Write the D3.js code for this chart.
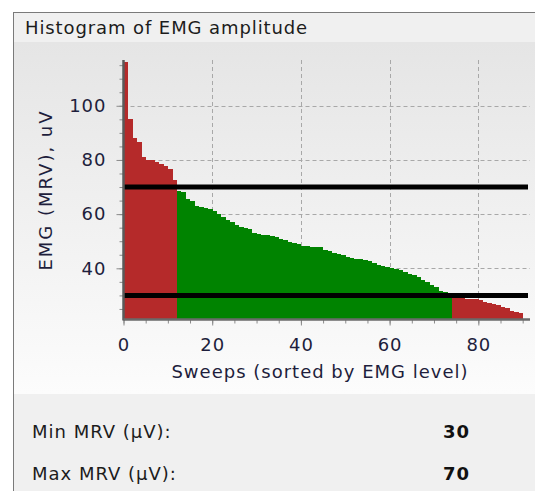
<!DOCTYPE html>
<html><head><meta charset="utf-8">
<script src="https://cdn.jsdelivr.net/npm/d3@7/dist/d3.min.js"></script>
<style>
html,body{margin:0;padding:0;background:#fff;}
svg{display:block;}
</style></head>
<body>
<svg id="c" width="535" height="491"></svg>
<script>
// ---- data ----
const title = "Histogram of EMG amplitude";
const xLabel = "Sweeps (sorted by EMG level)";
const yLabel = "EMG (MRV), uV";
const minMRV = 30;
const maxMRV = 70;
const emgValues = [
 116, 95, 88, 86.5, 81, 80, 79.8, 79.3, 78.6, 77.8, 76.8, 72.5,
 68.7, 68.3, 65.5, 65, 63, 62.6, 62.3, 61.8, 61, 60, 59, 58, 57, 56,
 55.3, 55, 54.5, 53.2, 52.8, 52.3, 52.2, 52, 51.5, 51, 50.5, 49.8, 49.2, 48.8,
 48.3, 48.1, 48, 47.9, 47.8, 46.8, 46.3, 45.8, 45.3, 44.8, 44.2, 43.8, 43.6, 43.3,
 43, 42.6, 42, 41.4, 41, 40.6, 40.1, 39.8, 39.2, 38.6, 38, 37.4, 36.7, 35.8, 35,
 34, 33, 31.8, 31.1, 30.8,
 29.2, 29, 28.9, 28.8, 28.6, 28.5, 28.2, 27.6, 27.2, 26.8, 26.3, 25.8, 25.3, 24.3, 23.8, 23.4
];
const xTicks = [0, 20, 40, 60, 80];
const yTicks = [40, 60, 80, 100];
const infoLabels = ["Min MRV (\u00b5V):", "Max MRV (\u00b5V):"];
const infoValues = [minMRV, maxMRV];

// ---- layout ----
const svg = d3.select("#c");
const W = 535, H = 491;
const plot = {left: 123.5, right: 530, top: 60, bottom: 319.5};
const FONT = "DejaVu Sans";
const styleText = (sel, opts={}) => sel.style("font-family",FONT).style("font-size",(opts.size||18)+"px")
  .style("letter-spacing",(opts.ls!=null?opts.ls:1)+"px").style("font-weight",opts.bold?"bold":"normal")
  .attr("fill",opts.fill||"#1e1e3c");

const defs = svg.append("defs");
const grad = defs.append("linearGradient").attr("id","bg").attr("x1",0).attr("y1",0).attr("x2",0).attr("y2",1);
grad.append("stop").attr("offset","0%").attr("stop-color","#e5e5e5");
grad.append("stop").attr("offset","100%").attr("stop-color","#fcfcfc");

svg.append("rect").attr("x",13).attr("y",12).attr("width",W-13).attr("height",H-12).attr("fill","#f0f0f0");
svg.append("rect").attr("x",14).attr("y",42).attr("width",W-14).attr("height",352).attr("fill","url(#bg)");
svg.append("line").attr("x1",13.5).attr("x2",13.5).attr("y1",12).attr("y2",H).attr("stroke","#7a7a7a");
svg.append("line").attr("x1",13).attr("x2",W).attr("y1",12.5).attr("y2",12.5).attr("stroke","#7a7a7a");

styleText(svg.append("text").attr("x",25).attr("y",34).text(title), {fill:"#1c1c1c", ls:0.9});

// scales
const x = d3.scaleLinear().domain([0, 91.65]).range([plot.left, plot.right]);
const y = d3.scaleLinear().domain([21.1, 116.9]).range([plot.bottom, plot.top]);

// grid
const grid = svg.append("g").attr("stroke","#a8a8a8").attr("stroke-dasharray","4,3").attr("stroke-width",1);
xTicks.filter(d=>d>0).forEach(d=>{
  grid.append("line").attr("x1",Math.round(x(d))+0.5).attr("x2",Math.round(x(d))+0.5).attr("y1",plot.top).attr("y2",plot.bottom);
});
yTicks.forEach(d=>{
  grid.append("line").attr("x1",plot.left).attr("x2",plot.right).attr("y1",Math.round(y(d))+0.5).attr("y2",Math.round(y(d))+0.5);
});

// bars
const colorOf = v => (v > maxMRV || v < minMRV) ? "#b52a2a" : "#008300";
svg.append("g").selectAll("rect").data(emgValues).join("rect")
  .attr("x",(d,i)=>x(i)).attr("width",(d,i)=>x(i+1)-x(i)+0.3)
  .attr("y",d=>y(d)).attr("height",d=>plot.bottom - y(d))
  .attr("fill",colorOf).attr("shape-rendering","crispEdges");

// threshold lines
svg.append("g").selectAll("line").data([minMRV, maxMRV]).join("line")
  .attr("x1",plot.left).attr("x2",528).attr("y1",d=>y(d)).attr("y2",d=>y(d))
  .attr("stroke","#000").attr("stroke-width",5);

// axes
const yAxisMinor = d3.axisLeft(y).tickValues(d3.range(25,116,5)).tickSize(4).tickFormat("");
const gyMinor = svg.append("g").attr("transform",`translate(${plot.left},0)`).call(yAxisMinor);
const yAxis = d3.axisLeft(y).tickValues(yTicks).tickSize(7).tickPadding(10);
const gy = svg.append("g").attr("transform",`translate(${plot.left},0)`).call(yAxis);
const xAxisMinor = d3.axisBottom(x).tickValues(d3.range(0,91,5)).tickSize(4).tickFormat("");
const gxMinor = svg.append("g").attr("transform",`translate(0,${plot.bottom})`).call(xAxisMinor);
const xAxis = d3.axisBottom(x).tickValues(xTicks).tickSize(6).tickPadding(13);
const gx = svg.append("g").attr("transform",`translate(0,${plot.bottom})`).call(xAxis);
[gy,gx,gyMinor,gxMinor].forEach(g=>{
  g.attr("font-family",null).attr("font-size",null);
  g.selectAll(".domain").remove();
  g.selectAll(".tick line").attr("stroke","#8a8a8a");
  styleText(g.selectAll("text"));
});
svg.append("line").attr("x1",plot.left).attr("x2",plot.left).attr("y1",plot.top).attr("y2",plot.bottom+1)
  .attr("stroke","#5a5a5a").attr("stroke-width",2.5);
svg.append("line").attr("x1",plot.left).attr("x2",plot.right).attr("y1",plot.bottom).attr("y2",plot.bottom)
  .attr("stroke","#6a6a6a").attr("stroke-width",2.5);

// axis labels
styleText(svg.append("text").attr("x",320).attr("y",378).attr("text-anchor","middle").text(xLabel));
styleText(svg.append("text").attr("transform","translate(52,190) rotate(-90)").attr("text-anchor","middle").text(yLabel), {ls:2});

// info rows
const infoY = [438, 480];
infoLabels.forEach((t,i)=>{
  styleText(svg.append("text").attr("x",32).attr("y",infoY[i]).text(t), {fill:"#1c1c1c"});
  styleText(svg.append("text").attr("x",443).attr("y",infoY[i]).text(infoValues[i]), {fill:"#111", bold:true});
});
</script>
</body></html>
